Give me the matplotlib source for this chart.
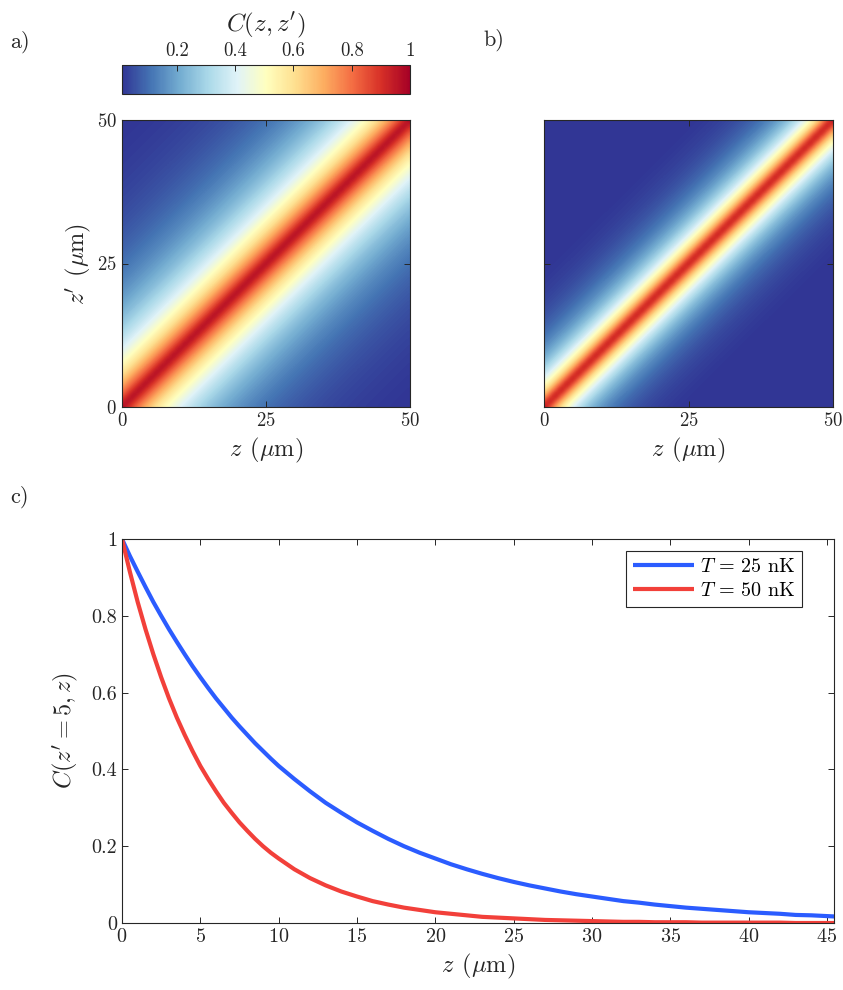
import numpy as np
import matplotlib
matplotlib.use('Agg')
import matplotlib.pyplot as plt

plt.rcParams['font.family'] = ['cmr10', 'DejaVu Serif']
plt.rcParams['mathtext.fontset'] = 'cm'
plt.rcParams['axes.formatter.use_mathtext'] = True
plt.rcParams['axes.unicode_minus'] = False

# distancia |z - z'| en micras (paso de 1 um)
dist = np.arange(0, 51)

# correlacion, T = 25 nK
corr_25 = [1.000, 0.915, 0.836, 0.765, 0.700, 0.640, 0.585, 0.535, 0.490, 0.448,
           0.409, 0.375, 0.343, 0.313, 0.287, 0.262, 0.240, 0.219, 0.200, 0.183,
           0.168, 0.153, 0.140, 0.128, 0.117, 0.107, 0.098, 0.090, 0.082, 0.075,
           0.069, 0.063, 0.057, 0.053, 0.048, 0.044, 0.040, 0.037, 0.034, 0.031,
           0.028, 0.026, 0.024, 0.021, 0.020, 0.018, 0.016, 0.015, 0.014, 0.013,
           0.012]

# correlacion, T = 50 nK
corr_50 = [1.000, 0.836, 0.700, 0.585, 0.490, 0.409, 0.343, 0.287, 0.240, 0.200,
           0.168, 0.140, 0.117, 0.098, 0.082, 0.069, 0.057, 0.048, 0.040, 0.034,
           0.028, 0.024, 0.020, 0.016, 0.014, 0.012, 0.010, 0.008, 0.007, 0.006,
           0.005, 0.004, 0.003, 0.003, 0.002, 0.002, 0.002, 0.001, 0.001, 0.001,
           0.001, 0.001, 0.001, 0.000, 0.000, 0.000, 0.000, 0.000, 0.000, 0.000,
           0.000]

# puntos intermedios (medio paso) al principio de la curva del panel c
half_dist = [0.5, 1.5, 2.5, 3.5, 4.5, 5.5, 6.5, 7.5, 8.5, 9.5]
half_25 = [0.956, 0.875, 0.800, 0.732, 0.669, 0.612, 0.560, 0.512, 0.468, 0.428]
half_50 = [0.915, 0.765, 0.640, 0.535, 0.448, 0.375, 0.313, 0.262, 0.219, 0.183]

series_labels = [r'$T\,=\,25$ nK', r'$T\,=\,50$ nK']
series_colors = ['#2b5cff', '#f2403a']
cbar_ticks = [0.2, 0.4, 0.6, 0.8, 1.0]
cbar_ticklabels = ['0.2', '0.4', '0.6', '0.8', '1']

# matrices C(z, z') a partir de |i - j|
idx = np.abs(dist[:, None] - dist[None, :])
mat_25 = np.array(corr_25)[idx]
mat_50 = np.array(corr_50)[idx]

fig = plt.figure(figsize=(8.43, 9.9), dpi=100)
W, H = 843, 990

def px_axes(x0, y0, x1, y1):
    return fig.add_axes([x0 / W, 1 - y1 / H, (x1 - x0) / W, (y1 - y0) / H])

tc = '#262626'
fs_tick = 13.5
fs_lab = 17.5
zlab = r'$z\;\,(\mu\mathrm{m})$'

def style(ax, fs=fs_tick):
    ax.tick_params(direction='in', top=True, right=True, length=4, width=0.7,
                   colors=tc, labelsize=fs, labelcolor=tc)
    for s in ax.spines.values():
        s.set_color(tc)
        s.set_linewidth(0.8)

cmap = plt.get_cmap('RdYlBu_r')
vmin, vmax = 0.012, 1.0

ax_a = px_axes(122, 120, 410, 407)
im = ax_a.imshow(mat_25, origin='lower', extent=[-0.5, 50.5, -0.5, 50.5],
                 cmap=cmap, vmin=vmin, vmax=vmax, interpolation='bicubic', aspect='auto')
ax_a.set_xlim(0, 50)
ax_a.set_ylim(0, 50)
ax_a.set_xticks([0, 25, 50])
ax_a.set_yticks([0, 25, 50])
style(ax_a)
ax_a.set_xlabel(zlab, fontsize=fs_lab, color=tc)
ax_a.set_ylabel(r"$z'\;\,(\mu\mathrm{m})$", fontsize=fs_lab, color=tc, labelpad=3)

ax_b = px_axes(544, 120, 833, 407)
ax_b.imshow(mat_50, origin='lower', extent=[-0.5, 50.5, -0.5, 50.5],
            cmap=cmap, vmin=vmin, vmax=vmax, interpolation='bicubic', aspect='auto')
ax_b.set_xlim(0, 50)
ax_b.set_ylim(0, 50)
ax_b.set_xticks([0, 25, 50])
ax_b.set_yticks([0, 25, 50])
style(ax_b)
ax_b.set_yticklabels([])
ax_b.set_xlabel(zlab, fontsize=fs_lab, color=tc)

# barra de color
cax = px_axes(122, 65, 410, 94)
cb = fig.colorbar(im, cax=cax, orientation='horizontal')
cb.set_ticks(cbar_ticks)
cb.set_ticklabels(cbar_ticklabels)
cax.xaxis.set_ticks_position('top')
cax.tick_params(direction='in', length=4, width=0.7, colors=tc, labelsize=13.5, labelcolor=tc)
cb.outline.set_edgecolor(tc)
cb.outline.set_linewidth(0.8)
cax.set_title(r"$C(z,z')$", fontsize=18, color=tc, pad=8)

# panel c
ax_c = px_axes(122, 539, 834, 923)
for d_full, v_full, v_half, lab, col in zip([dist, dist], [corr_25, corr_50],
                                           [half_25, half_50], series_labels, series_colors):
    zz = np.concatenate([d_full, half_dist])
    cc = np.concatenate([v_full, v_half])
    order = np.argsort(zz)
    ax_c.plot(zz[order], cc[order], color=col, lw=3, label=lab, solid_capstyle='butt')
ax_c.set_xlim(0, 45.45)
ax_c.set_ylim(0, 1)
ax_c.set_xticks(np.arange(0, 46, 5))
ax_c.set_yticks([0, 0.2, 0.4, 0.6, 0.8, 1])
ax_c.set_yticklabels(['0', '0.2', '0.4', '0.6', '0.8', '1'])
style(ax_c, 14.5)
ax_c.set_xlabel(zlab, fontsize=fs_lab, color=tc)
ax_c.set_ylabel(r"$C(z'=5,z)$", fontsize=fs_lab, color=tc, labelpad=8)
leg = ax_c.legend(loc='upper right', bbox_to_anchor=(0.955, 0.97), fontsize=14.5,
                  fancybox=False, framealpha=1, borderaxespad=0, borderpad=0.35,
                  handlelength=3.0, handletextpad=0.3, labelspacing=0.3)
leg.get_frame().set_edgecolor(tc)
leg.get_frame().set_linewidth(0.8)

fig.text(10 / W, 1 - 42 / H, 'a)', fontsize=16, color=tc, va='center')
fig.text(483 / W, 1 - 40 / H, 'b)', fontsize=16, color=tc, va='center')
fig.text(10 / W, 1 - 497 / H, 'c)', fontsize=16, color=tc, va='center')

fig.savefig('out.png', dpi=100)
